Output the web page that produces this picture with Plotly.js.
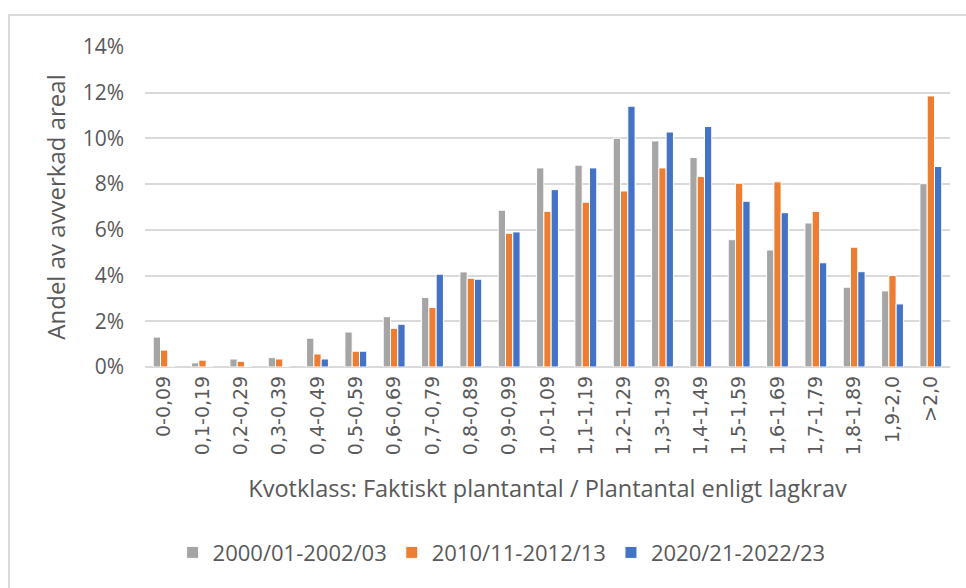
<!DOCTYPE html>
<html>
<head>
<meta charset="utf-8">
<script src="https://cdn.plot.ly/plotly-3.0.1.min.js"></script>
<style>
  html, body { margin: 0; padding: 0; background: #fff; }
  #wrap { position: relative; width: 966px; height: 588px; }
  #chart { position: absolute; left: 0; top: 0; width: 966px; height: 588px; }
  #frame { position: absolute; left: 8px; top: 14px; right: 0; bottom: 0;
           border-top: 2px solid #d9d9d9; border-left: 2px solid #d9d9d9; pointer-events: none; }
</style>
</head>
<body>
<div id="wrap">
  <div id="chart"></div>
  <div id="frame"></div>
</div>
<script>
const categories = ["0-0,09","0,1-0,19","0,2-0,29","0,3-0,39","0,4-0,49","0,5-0,59","0,6-0,69","0,7-0,79","0,8-0,89","0,9-0,99","1,0-1,09","1,1-1,19","1,2-1,29","1,3-1,39","1,4-1,49","1,5-1,59","1,6-1,69","1,7-1,79","1,8-1,89","1,9-2,0",">2,0"];
const seriesNames = ["2000/01-2002/03","2010/11-2012/13","2020/21-2022/23"];
const values2000 = [1.31,0.18,0.35,0.41,1.26,1.53,2.2,3.04,4.16,6.86,8.71,8.83,10.01,9.89,9.17,5.57,5.12,6.3,3.49,3.33,8.02];
const values2010 = [0.74,0.3,0.25,0.35,0.57,0.69,1.69,2.6,3.88,5.85,6.81,7.21,7.7,8.71,8.33,8.04,8.1,6.81,5.24,4.0,11.86];
const values2020 = [0,0,0,0,0.35,0.69,1.87,4.06,3.84,5.91,7.76,8.71,11.41,10.28,10.52,7.25,6.75,4.56,4.17,2.76,8.77];
const colors = ["#A5A5A5","#ED7D31","#4472C4"];

const allValues = [values2000, values2010, values2020];
const traces = allValues.map((vals, i) => ({
  type: "bar",
  name: seriesNames[i],
  x: categories,
  y: vals,
  marker: { color: colors[i], line: { color: "#ffffff", width: 1 } },
  hoverinfo: "x+y+name"
}));

const textColor = "#595959";
const layout = {
  width: 966,
  height: 588,
  margin: { l: 145, r: 16, t: 47, b: 221 },
  paper_bgcolor: "rgba(0,0,0,0)",
  plot_bgcolor: "#ffffff",
  barmode: "group",
  bargap: 0.43,
  bargroupgap: 0,
  showlegend: true,
  legend: {
    orientation: "h",
    x: 0.443, xanchor: "center",
    y: -0.58, yanchor: "middle",
    font: { family: "Open Sans, sans-serif", size: 22, color: textColor },
    itemwidth: 30,
    traceorder: "normal"
  },
  xaxis: {
    type: "category",
    tickangle: -90,
    tickfont: { family: "DejaVu Sans, sans-serif", size: 19, color: textColor },
    ticks: "",
    showgrid: false,
    showline: false,
    zeroline: false,
    automargin: false,
    ticklabelstandoff: 4,
    title: {
      text: "Kvotklass: Faktiskt plantantal / Plantantal enligt lagkrav",
      font: { family: "Open Sans, sans-serif", size: 23.5, color: textColor },
      standoff: 26
    }
  },
  yaxis: {
    range: [0, 14],
    dtick: 2,
    ticksuffix: "%",
    tickfont: { family: "Open Sans, sans-serif", size: 21, color: textColor },
    showgrid: true,
    gridcolor: "#d9d9d9",
    gridwidth: 2,
    zeroline: true,
    zerolinecolor: "#d9d9d9",
    zerolinewidth: 2,
    showline: false,
    ticks: "",
    ticklabelstandoff: 20,
    automargin: false,
    title: {
      text: "Andel av avverkad areal",
      font: { family: "Open Sans, sans-serif", size: 24, color: textColor },
      standoff: 10
    }
  }
};

Plotly.newPlot("chart", traces, layout, { displayModeBar: false, staticPlot: true });
</script>
</body>
</html>
